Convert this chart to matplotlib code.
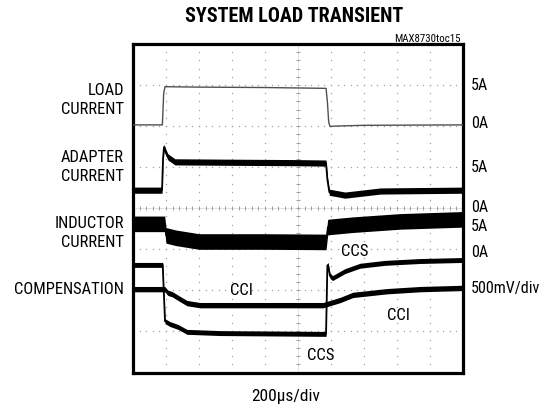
import matplotlib
matplotlib.use("Agg")
import matplotlib.pyplot as plt
from matplotlib import font_manager as fm
import numpy as np

# ---------------- data (time in µs, level in screen divisions) ----------------
load_t = [0, 178, 186, 194, 200, 400, 800, 1170, 1178, 1186, 1194, 1220, 1400, 2000]
load_y = [2.03, 2.03, 2.80, 2.96, 2.96, 2.95, 2.94, 2.92, 2.60, 2.10, 1.99, 2.00, 2.02, 2.03]

adapter_t = [0, 176, 182, 188, 200, 212, 254, 600, 1000, 1170, 1178, 1190, 1285, 1500, 2000]
adapter_y = [0.44, 0.44, 1.20, 1.49, 1.35, 1.25, 1.13, 1.12, 1.11, 1.10, 0.70, 0.39, 0.32, 0.42, 0.44]

inductor_t = [0, 192, 200, 260, 400, 800, 1170, 1180, 1200, 1333, 1620, 2000]
inductor_y = [-0.38, -0.38, -0.66, -0.72, -0.81, -0.81, -0.82, -0.46, -0.45, -0.40, -0.32, -0.27]

ccs_t = [0, 180, 194, 224, 273, 327, 527, 1170, 1178, 1182, 1194, 1210, 1285, 1376, 1527, 1740, 2000]
ccs_y = [-1.38, -1.38, -2.75, -2.82, -2.89, -3.01, -3.04, -3.06, -1.40, -1.38, -1.65, -1.70, -1.53, -1.40, -1.33, -1.285, -1.26]

cci_t = [0, 192, 212, 236, 285, 327, 406, 1152, 1194, 1255, 1333, 1539, 1739, 2000]
cci_y = [-1.97, -1.97, -2.06, -2.09, -2.21, -2.31, -2.36, -2.36, -2.31, -2.235, -2.11, -2.02, -1.97, -1.94]

left_labels = ["LOAD\nCURRENT", "ADAPTER\nCURRENT", "INDUCTOR\nCURRENT", "COMPENSATION"]
right_labels = ["5A", "0A", "5A", "0A", "5A", "0A", "500mV/div"]
annotations = ["CCS", "CCI", "CCI", "CCS"]
annot_t = [1345, 655, 1606, 1139]
annot_y = [-1.04, -1.97, -2.58, -3.55]

# ---------------- fonts: look for a condensed family ----------------
def find_font(candidates):
    files = [f.fname for f in fm.fontManager.ttflist]
    for c in candidates:
        for fn in files:
            if fn.split("/")[-1].lower() == c.lower():
                return fn
    return None

reg_file = find_font(["LiberationSansNarrow-Regular.ttf", "RobotoCondensed-Regular.ttf",
                      "DejaVuSansCondensed.ttf", "NotoSans-Condensed.ttf",
                      "NotoSans-CondensedRegular.ttf", "OpenSans-CondensedRegular.ttf"])
bold_file = find_font(["RobotoCondensed-Black.ttf", "RobotoCondensed-ExtraBold.ttf",
                       "LiberationSansNarrow-Bold.ttf", "RobotoCondensed-Bold.ttf",
                       "DejaVuSansCondensed-Bold.ttf", "NotoSans-CondensedBlack.ttf",
                       "NotoSans-CondensedBold.ttf", "OpenSans-CondensedBold.ttf"])


def fp(size, bold=False):
    f = bold_file if bold else reg_file
    if f:
        return fm.FontProperties(fname=f, size=size)
    return fm.FontProperties(family=["Liberation Sans", "DejaVu Sans"], size=size * 0.85,
                             weight="bold" if bold else "normal")

# ---------------- figure ----------------
W, H = 544, 406
fig = plt.figure(figsize=(W / 100, H / 100), dpi=100)

L, R, T, B = 133, 463, 45, 373.5
ax = fig.add_axes([L / W, 1 - B / H, (R - L) / W, (B - T) / H])
ax.set_xlim(0, 2000)
ax.set_ylim(-4, 4)
ax.set_xticks([])
ax.set_yticks([])
for s in ax.spines.values():
    s.set_linewidth(2.3)
    s.set_color("black")

# grid: dotted lines every division
grid_col = "#a0a0a0"
ys_fine = np.arange(-4, 4.001, 0.2)
xs_fine = np.arange(0, 2000.1, 40)
for k in range(1, 10):
    ax.plot(np.full_like(ys_fine, 200 * k), ys_fine, ls="none", marker="s",
            ms=0.9, mew=0, color=grid_col, zorder=1)
for k in range(-3, 4):
    ax.plot(xs_fine, np.full_like(xs_fine, k), ls="none", marker="s",
            ms=0.9, mew=0, color=grid_col, zorder=1)
ax.plot(np.full_like(ys_fine, 1000), ys_fine, ls="none", marker="_", ms=3.5,
        mew=0.7, color=grid_col, zorder=1)
ax.plot(xs_fine, np.zeros_like(xs_fine), ls="none", marker="|", ms=3.5,
        mew=0.7, color=grid_col, zorder=1)
ax.axvline(1000, color=grid_col, lw=0.4, ls=(0, (1, 1)), zorder=1)
ax.axhline(0, color=grid_col, lw=0.4, ls=(0, (1, 1)), zorder=1)


def band(t, y, half, lw=1.0):
    t = np.asarray(t, float)
    y = np.asarray(y, float)
    ax.fill_between(t, y - half, y + half, color="black", lw=0, zorder=3)
    ax.plot(t, y, color="black", lw=lw, zorder=3)

# traces
ax.plot(load_t, load_y, color="#505050", lw=1.0, zorder=3)
band(adapter_t, adapter_y, 0.075, lw=1.3)
band(inductor_t, inductor_y, 0.19, lw=1.0)
band(ccs_t, ccs_y, 0.06, lw=1.3)
band(cci_t, cci_y, 0.065, lw=1.3)

for lab, t, y in zip(annotations, annot_t, annot_y):
    ax.text(t, y, lab, fontproperties=fp(12), ha="center", va="center", zorder=4)

# title and captions
fig.text(294 / W, 1 - 17 / H, "SYSTEM LOAD TRANSIENT", fontproperties=fp(14.5, bold=True),
         ha="center", va="center")
fig.text(461 / W, 1 - 39 / H, "MAX8730toc15", fontproperties=fp(7.8),
         ha="right", va="center")
fig.text(286 / W, 1 - 397 / H, "200\u00b5s/div", fontproperties=fp(12.5),
         ha="center", va="center")

left_y = [100, 167, 233, 290]
for lab, y in zip(left_labels, left_y):
    fig.text(124 / W, 1 - y / H, lab, fontproperties=fp(11.9), ha="right",
             va="center", linespacing=1.32)

right_y = [86, 123, 168, 208, 227, 253, 288]
for lab, y in zip(right_labels, right_y):
    fig.text(471 / W, 1 - y / H, lab, fontproperties=fp(11.5), ha="left", va="center")

fig.savefig("out.png", dpi=100)
